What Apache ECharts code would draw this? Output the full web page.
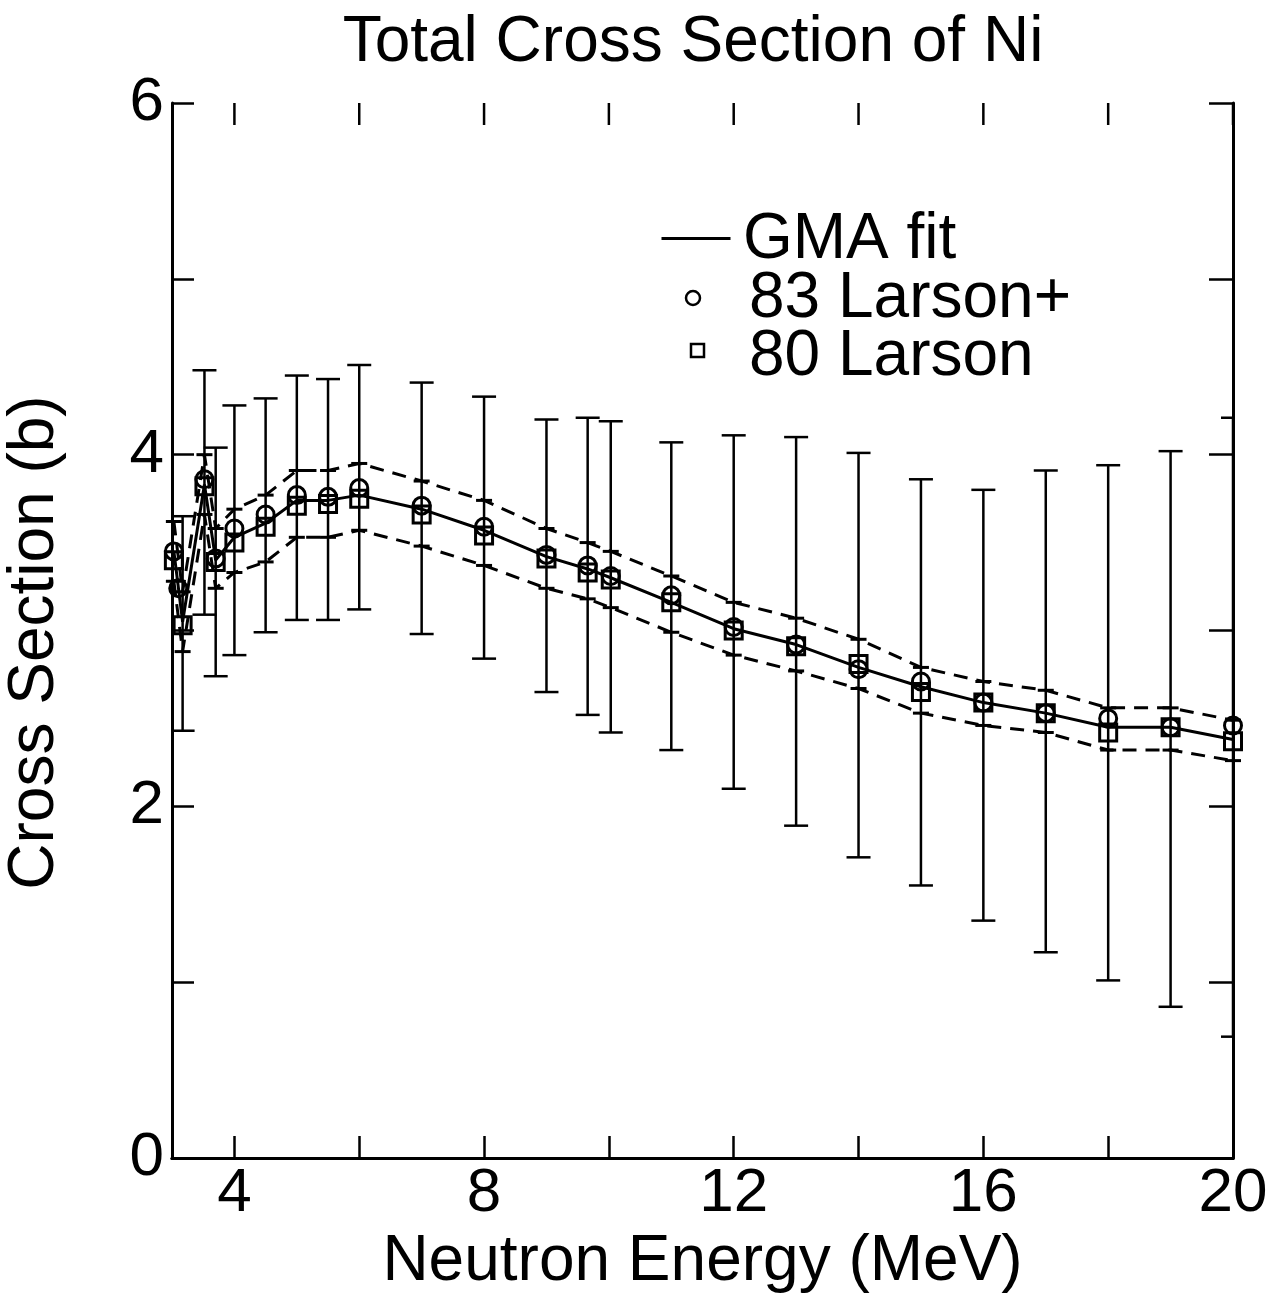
<!DOCTYPE html>
<html>
<head>
<meta charset="utf-8">
<script src="https://cdn.jsdelivr.net/npm/echarts@6/dist/echarts.min.js"></script>
<style>
html,body{margin:0;padding:0;background:#fff;}
#chart{width:1272px;height:1301px;}
</style>
</head>
<body>
<div id="chart"></div>
<script>
// ---- data ----
const energyFit = [3.03, 3.17, 3.52, 3.70, 4.0, 4.5, 5.0, 5.5, 6.0, 7.0, 8.0, 9.0, 9.66, 10.03, 11, 12, 13, 14, 15, 16, 17, 18, 19, 20];
const gmaFit    = [3.45, 3.05, 3.83, 3.40, 3.53, 3.61, 3.74, 3.74, 3.77, 3.69, 3.57, 3.42, 3.35, 3.30, 3.16, 3.01, 2.92, 2.79, 2.68, 2.59, 2.53, 2.45, 2.45, 2.38];
const gmaUpper  = [3.62, 3.22, 4.00, 3.58, 3.69, 3.77, 3.91, 3.91, 3.95, 3.85, 3.74, 3.58, 3.50, 3.45, 3.31, 3.16, 3.07, 2.95, 2.79, 2.71, 2.66, 2.56, 2.56, 2.49];
const gmaLower  = [3.28, 2.88, 3.66, 3.24, 3.33, 3.39, 3.53, 3.53, 3.57, 3.48, 3.37, 3.24, 3.18, 3.13, 2.99, 2.86, 2.77, 2.67, 2.53, 2.46, 2.42, 2.32, 2.32, 2.26];

const energy83 = [3.03, 3.10, 3.52, 3.70, 4.0, 4.5, 5.0, 5.5, 6.0, 7.0, 8.0, 9.0, 9.66, 10.03, 11, 12, 13, 14, 15, 16, 17, 18, 19, 20];
const larson83 = [3.45, 3.24, 3.86, 3.41, 3.58, 3.66, 3.77, 3.76, 3.81, 3.71, 3.59, 3.43, 3.37, 3.31, 3.20, 3.02, 2.92, 2.78, 2.71, 2.59, 2.53, 2.50, 2.45, 2.46];

const energy80 = [3.03, 3.17, 3.52, 3.70, 4.0, 4.5, 5.0, 5.5, 6.0, 7.0, 8.0, 9.0, 9.66, 10.03, 11, 12, 13, 14, 15, 16, 17, 18, 19, 20];
const larson80 = [3.40, 3.03, 3.82, 3.39, 3.50, 3.59, 3.71, 3.72, 3.75, 3.66, 3.54, 3.41, 3.33, 3.29, 3.16, 3.00, 2.91, 2.81, 2.65, 2.59, 2.53, 2.42, 2.45, 2.37];

const energyErr = [3.17, 3.52, 3.70, 4.0, 4.5, 5.0, 5.5, 6.0, 7.0, 8.0, 9.0, 9.66, 10.03, 11, 12, 13, 14, 15, 16, 17, 18, 19, 20];
const errLow    = [2.43, 3.09, 2.74, 2.86, 2.99, 3.06, 3.06, 3.12, 2.98, 2.84, 2.65, 2.52, 2.42, 2.32, 2.10, 1.89, 1.71, 1.55, 1.35, 1.17, 1.01, 0.86, 0.69];
const errHigh   = [3.65, 4.48, 4.04, 4.28, 4.32, 4.45, 4.43, 4.51, 4.41, 4.33, 4.20, 4.21, 4.19, 4.07, 4.11, 4.10, 4.01, 3.86, 3.80, 3.91, 3.94, 4.02, 4.21];

const xTickValues  = [4, 6, 8, 10, 12, 14, 16, 18, 20];
const xLabelValues = [4, 8, 12, 16, 20];
const yLabelValues = [0, 2, 4, 6];
const yMax = 6;

const titleText = 'Total Cross Section of Ni';
const xName = 'Neutron Energy (MeV)';
const yName = 'Cross Section (b)';
const legendNames = ['GMA fit', '83 Larson+', '80 Larson'];

// ---- build ----
const zip = (xs, ys) => xs.map((x, i) => [x, ys[i]]);
const FONT = '"Liberation Sans", Arial, Helvetica, sans-serif';

const chart = echarts.init(document.getElementById('chart'), null, {renderer: 'canvas'});

const axisLine = {show: true, lineStyle: {color: '#000', width: 3}};
const tickStyle = {color: '#000', width: 2.5};

const option = {
  backgroundColor: '#fff',
  animation: false,
  title: {
    text: titleText, left: 688, top: 6, textAlign: 'center',
    textStyle: {fontFamily: FONT, fontSize: 64, fontWeight: 'normal', color: '#000'}
  },
  grid: {left: 172, right: 39, top: 103, bottom: 143, containLabel: false, outerBoundsMode: 'none'},
  xAxis: [
    {
      type: 'value', position: 'bottom', min: 3, max: 20,
      name: xName, nameLocation: 'middle', nameGap: 55,
      nameTextStyle: {fontFamily: FONT, fontSize: 64, color: '#000'},
      axisLine: axisLine,
      axisTick: {show: true, inside: true, length: 22, lineStyle: tickStyle, customValues: xTickValues},
      axisLabel: {show: true, margin: 5, fontFamily: FONT, fontSize: 62, color: '#000', customValues: xLabelValues},
      splitLine: {show: false}
    },
    {
      type: 'value', position: 'top', min: 3, max: 20,
      axisLine: axisLine,
      axisTick: {show: false},
      axisLabel: {show: false},
      splitLine: {show: false}
    }
  ],
  yAxis: [
    {
      type: 'value', position: 'left', min: 0, max: yMax, interval: 1,
      name: yName, nameLocation: 'middle', nameGap: 105, nameRotate: 90,
      nameTextStyle: {fontFamily: FONT, fontSize: 64, color: '#000', padding: [0, 24, 0, 0]},
      axisLine: axisLine,
      axisTick: {show: true, inside: true, length: 22, lineStyle: tickStyle},
      axisLabel: {show: true, margin: 8, fontFamily: FONT, fontSize: 62, color: '#000', customValues: yLabelValues,
        formatter: v => (yLabelValues.indexOf(v) >= 0 ? String(v) : '')},
      splitLine: {show: false}
    },
    {
      type: 'value', position: 'right', min: 0, max: yMax, interval: 1,
      axisLine: axisLine,
      axisTick: {show: true, inside: true, length: 24, lineStyle: tickStyle},
      axisLabel: {show: false},
      splitLine: {show: false}
    }
  ],
  series: [
    {
      // tick marks of the top (mirror) axis, placed through the x scale
      name: 'top ticks', type: 'custom', xAxisIndex: 0, yAxisIndex: 0, clip: false, silent: true, z: 6,
      data: xTickValues.map(v => [v, yMax]),
      renderItem: function (params, api) {
        const p = api.coord([api.value(0), api.value(1)]);
        return {type: 'line', shape: {x1: p[0], y1: p[1], x2: p[0], y2: p[1] + 22},
                style: {stroke: '#000', lineWidth: 2.5}};
      }
    },
    {
      name: 'uncertainty', type: 'custom', xAxisIndex: 0, yAxisIndex: 0, clip: true, z: 2,
      data: energyErr.map((e, i) => [e, errLow[i], errHigh[i]]),
      encode: {x: 0, y: [1, 2]},
      renderItem: function (params, api) {
        const x = api.value(0), lo = api.value(1), hi = api.value(2);
        const a = api.coord([x, hi]), b = api.coord([x, lo]);
        const w = 12;
        const st = {stroke: '#000', lineWidth: 2.5};
        return {
          type: 'group',
          children: [
            {type: 'line', shape: {x1: a[0], y1: a[1], x2: b[0], y2: b[1]}, style: st},
            {type: 'line', shape: {x1: a[0] - w, y1: a[1], x2: a[0] + w, y2: a[1]}, style: st},
            {type: 'line', shape: {x1: b[0] - w, y1: b[1], x2: b[0] + w, y2: b[1]}, style: st}
          ]
        };
      }
    },
    {
      name: 'GMA upper', type: 'line', data: zip(energyFit, gmaUpper), z: 3,
      symbol: 'rect', symbolSize: [16, 3], showSymbol: true,
      itemStyle: {color: '#000'},
      lineStyle: {color: '#000', width: 3, type: [14, 9]}
    },
    {
      name: 'GMA lower', type: 'line', data: zip(energyFit, gmaLower), z: 3,
      symbol: 'rect', symbolSize: [16, 3], showSymbol: true,
      itemStyle: {color: '#000'},
      lineStyle: {color: '#000', width: 3, type: [14, 9]}
    },
    {
      name: legendNames[0], type: 'line', data: zip(energyFit, gmaFit), z: 4,
      symbol: 'none', lineStyle: {color: '#000', width: 3}
    },
    {
      name: legendNames[1], type: 'scatter', data: zip(energy83, larson83), z: 5,
      symbol: 'circle', symbolSize: 17,
      itemStyle: {color: 'rgba(0,0,0,0)', borderColor: '#000', borderWidth: 3, opacity: 1}
    },
    {
      name: legendNames[2], type: 'scatter', data: zip(energy80, larson80), z: 5,
      symbol: 'rect', symbolSize: 17,
      itemStyle: {color: 'rgba(0,0,0,0)', borderColor: '#000', borderWidth: 3, opacity: 1}
    }
  ],
  graphic: [
    {type: 'line', left: 659, top: 236, shape: {x1: 0, y1: 0, x2: 69, y2: 0}, style: {stroke: '#000', lineWidth: 3}},
    {type: 'text', x: 743, y: 240, style: {text: legendNames[0], font: '64px ' + FONT, fill: '#000', verticalAlign: 'middle', align: 'left'}},
    {type: 'circle', shape: {cx: 693, cy: 298, r: 7}, style: {fill: 'none', stroke: '#000', lineWidth: 2.5}},
    {type: 'text', x: 749, y: 299, style: {text: legendNames[1], font: '64px ' + FONT, fill: '#000', verticalAlign: 'middle', align: 'left'}},
    {type: 'rect', shape: {x: 691, y: 344, width: 13, height: 13}, style: {fill: 'none', stroke: '#000', lineWidth: 2.5}},
    {type: 'text', x: 749, y: 357, style: {text: legendNames[2], font: '64px ' + FONT, fill: '#000', verticalAlign: 'middle', align: 'left'}}
  ]
};

chart.setOption(option);
</script>
</body>
</html>
